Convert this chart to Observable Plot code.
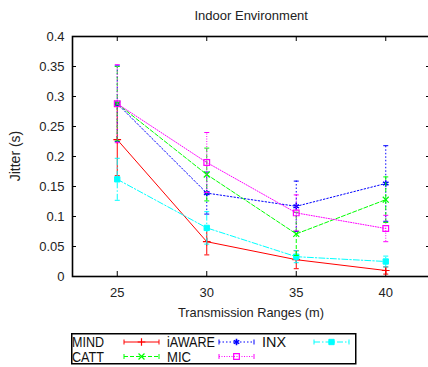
<!DOCTYPE html>
<html>
<head>
<meta charset="utf-8">
<script src="https://cdn.jsdelivr.net/npm/d3@7"></script>
<script src="https://cdn.jsdelivr.net/npm/@observablehq/plot@0.6"></script>
<style>
  html, body { margin: 0; padding: 0; background: #fff; overflow: hidden; }
  #wrap { position: relative; width: 428px; height: 367px; font-family: "Liberation Sans", Arial, sans-serif; color: #222; }
  .lbl { position: absolute; font-size: 12.5px; line-height: 1; white-space: nowrap; }
</style>
</head>
<body>
<div id="wrap"></div>
<script>
// ---- data ----
const X = [25, 30, 35, 40];
const SERIES = ["MIND", "iAWARE", "INX", "CATT", "MIC"];
const MIND = [0.228, 0.058, 0.028, 0.010];
const MIND_ERR = [0.060, 0.022, 0.015, 0.006];
const IAWARE = [0.288, 0.139, 0.117, 0.155];
const IAWARE_ERR = [0.063, 0.035, 0.042, 0.063];
const INX = [0.162, 0.081, 0.033, 0.025];
const INX_ERR = [0.035, 0.027, 0.010, 0.009];
const CATT = [0.288, 0.170, 0.071, 0.128];
const CATT_ERR = [0.062, 0.044, 0.036, 0.038];
const MIC = [0.288, 0.190, 0.106, 0.080];
const MIC_ERR = [0.065, 0.050, 0.030, 0.022];
const Y_TICKS = [0, 0.05, 0.1, 0.15, 0.2, 0.25, 0.3, 0.35, 0.4];
const TITLE = "Indoor Environment";
const X_LABEL = "Transmission Ranges (m)";
const Y_LABEL = "Jitter (s)";

// ---- styles ----
const VALUES = {MIND, iAWARE: IAWARE, INX, CATT, MIC};
const ERRS = {MIND: MIND_ERR, iAWARE: IAWARE_ERR, INX: INX_ERR, CATT: CATT_ERR, MIC: MIC_ERR};
const STYLE = {
  MIND:   {color: "#ff0000", dash: null,         symbol: "plus",     fill: "none", r: 2.6, sw: 1.2},
  iAWARE: {color: "#0000ff", dash: "1.5,2",      symbol: "asterisk", fill: "none", r: 3,   sw: 1.6},
  INX:    {color: "#00ffff", dash: "6,2,1.5,2",  symbol: "square",   fill: "#00ffff", r: 3, sw: 1},
  CATT:   {color: "#00ff00", dash: "4,2",        symbol: "times",    fill: "none", r: 2.8, sw: 1.2},
  MIC:    {color: "#ff00ff", dash: "1,1.5",      symbol: "square",   fill: "none", r: 3.2, sw: 1.2}
};

const rows = SERIES.flatMap(s => X.map((x, i) => ({s, x, y: VALUES[s][i], e: ERRS[s][i]})));

const cap = {draw(ctx) { ctx.moveTo(-2.5, 0); ctx.lineTo(2.5, 0); }};

const seriesMarks = SERIES.flatMap(s => {
  const st = STYLE[s];
  const d = rows.filter(r => r.s === s);
  return [
    Plot.ruleX(d, {x: "x", y1: r => r.y - r.e, y2: r => r.y + r.e, stroke: st.color, strokeWidth: 1, strokeDasharray: st.dash}),
    Plot.dot(d, {x: "x", y: r => r.y + r.e, symbol: cap, r: 3, fill: "none", stroke: st.color, strokeWidth: 1}),
    Plot.dot(d, {x: "x", y: r => r.y - r.e, symbol: cap, r: 3, fill: "none", stroke: st.color, strokeWidth: 1}),
    Plot.line(d, {x: "x", y: "y", stroke: st.color, strokeWidth: 1, strokeDasharray: st.dash}),
    Plot.dot(d, {x: "x", y: "y", symbol: st.symbol, r: st.r, fill: st.fill, stroke: st.color, strokeWidth: st.sw})
  ];
});

const chart = Plot.plot({
  width: 428,
  height: 330,
  marginLeft: 72,
  marginRight: -2,
  marginTop: 36,
  marginBottom: 54,
  style: {fontFamily: "'Liberation Sans', Arial, sans-serif", fontSize: "13px", color: "#222", overflow: "visible", background: "transparent"},
  x: {domain: [22.5, 42.5]},
  y: {domain: [0, 0.4]},
  marks: [
    Plot.axisX(X, {tickSize: 0, tickPadding: 11, tickFormat: d => String(d), label: null}),
    Plot.axisY(Y_TICKS, {tickSize: 0, tickPadding: 8, tickFormat: d => String(+d.toFixed(2)), label: null}),
    Plot.tickX(X, {x: d => d, insetTop: 235, stroke: "black"}),
    Plot.tickX(X, {x: d => d, insetBottom: 235, stroke: "black"}),
    Plot.tickY(Y_TICKS, {y: d => d, insetRight: 354, stroke: "black"}),
    Plot.tickY(Y_TICKS, {y: d => d, insetLeft: 354, stroke: "black"}),
    ...seriesMarks,
    Plot.frame({stroke: "black", strokeWidth: 1.6})
  ]
});

const wrap = document.getElementById("wrap");
chart.style.position = "absolute";
chart.style.left = "0px";
chart.style.top = "0px";
wrap.appendChild(chart);

function addLabel(text, cx, cy, rotate, size) {
  const el = document.createElement("div");
  el.className = "lbl";
  if (size) el.style.fontSize = size + "px";
  el.textContent = text;
  wrap.appendChild(el);
  const w = el.offsetWidth, h = el.offsetHeight;
  el.style.left = (cx - w / 2) + "px";
  el.style.top = (cy - h / 2) + "px";
  if (rotate) el.style.transform = "rotate(-90deg)";
}
addLabel(TITLE, 251, 15, false, 13);
addLabel(X_LABEL, 251, 313, false, 12.8);
addLabel(Y_LABEL, 15, 156, true, 14);

// ---- legend (HTML-side SVG built from the series arrays) ----
const LEG_COLS = [0, 95, 190];
const legend = d3.create("svg")
  .attr("width", 288).attr("height", 34)
  .style("position", "absolute").style("left", "70px").style("top", "332px")
  .style("font-family", "'Liberation Sans', Arial, sans-serif").style("font-size", "14px");
legend.append("rect").attr("x", 1.75).attr("y", 1.75).attr("width", 284).attr("height", 30)
  .attr("fill", "none").attr("stroke", "black").attr("stroke-width", 1.5);
SERIES.forEach((s, i) => {
  const st = STYLE[s];
  const col = i % 3, row = Math.floor(i / 3);
  const x0 = 2 + LEG_COLS[col];
  const cy = 10 + row * 14.5;
  legend.append("text").attr("x", x0).attr("y", cy).attr("dy", "0.36em").attr("fill", "#111")
    .attr("textLength", s.length > 4 ? 48 : s.length * 8).attr("lengthAdjust", "spacingAndGlyphs").text(s);
  const g = legend.append("g").attr("transform", `translate(${x0 + 52},${cy})`);
  g.append("line").attr("x1", 0).attr("x2", 35).attr("y1", 0).attr("y2", 0)
    .attr("stroke", st.color).attr("stroke-dasharray", st.dash).attr("stroke-width", 1);
  [0, 35].forEach(x => g.append("line").attr("x1", x).attr("x2", x).attr("y1", -2.5).attr("y2", 2.5)
    .attr("stroke", st.color).attr("stroke-width", 1));
  const sym = {plus: d3.symbolPlus, asterisk: d3.symbolAsterisk, square: d3.symbolSquare, times: d3.symbolTimes}[st.symbol];
  g.append("path").attr("transform", "translate(17.5,0)")
    .attr("d", d3.symbol(sym, Math.PI * st.r * st.r)())
    .attr("fill", st.fill).attr("stroke", st.color).attr("stroke-width", st.sw);
});
wrap.appendChild(legend.node());
</script>
</body>
</html>
